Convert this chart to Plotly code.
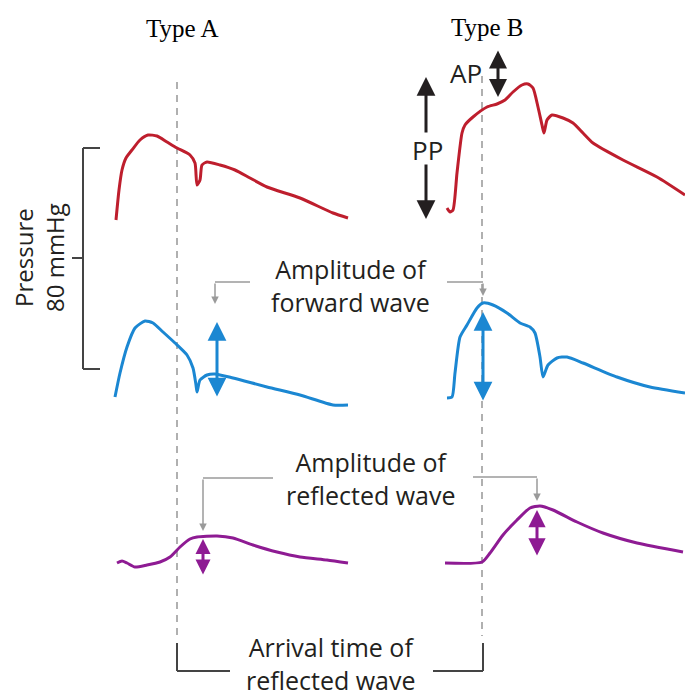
import plotly.graph_objects as go

# Canvas is laid out in drawing units (x right, y down), 685 x 696.

# --- Waveform samples: (x, y) in drawing units ---
# Type A: aortic pressure (red), forward wave (blue), reflected wave (purple)
A_AORTIC_X = [116, 119, 122, 126, 132, 140, 148, 157, 167, 177, 190, 195, 197, 200, 202, 207, 220, 235, 250, 267, 300, 333, 348]
A_AORTIC_Y = [220, 190, 170, 158, 150, 140, 135, 136, 142, 148, 155, 163, 185, 180, 165, 162, 165, 170, 178, 187, 198, 213, 218]

A_FORWARD_X = [115, 120, 127, 135, 145, 153, 163, 175, 187, 193, 196, 197, 200, 207, 215, 233, 267, 300, 333, 348]
A_FORWARD_Y = [397, 373, 347, 328, 321, 323, 332, 343, 355, 368, 385, 392, 380, 375, 374, 378, 387, 395, 405, 405]

A_REFLECT_X = [117, 122, 127, 135, 147, 160, 170, 180, 190, 197, 217, 233, 253, 277, 300, 327, 348]
A_REFLECT_Y = [563, 561, 563, 567, 565, 562, 557, 547, 539, 537, 536, 538, 545, 552, 557, 560, 563]

# Type B
B_AORTIC_X = [447, 450, 453, 457, 462, 465, 473, 487, 497, 505, 513, 522, 528, 533, 538, 542, 544, 547, 552, 563, 573, 583, 593, 623, 657, 685]
B_AORTIC_Y = [208, 212, 210, 173, 133, 125, 117, 107, 104, 100, 92, 85, 84, 88, 107, 125, 133, 120, 115, 118, 123, 133, 143, 160, 177, 195]

B_FORWARD_X = [447, 452, 455, 460, 467, 477, 483, 493, 507, 520, 530, 535, 540, 543, 548, 557, 567, 583, 617, 650, 685]
B_FORWARD_Y = [398, 397, 373, 337, 325, 308, 303, 305, 313, 323, 327, 333, 357, 377, 365, 358, 357, 363, 377, 387, 393]

B_REFLECT_X = [445, 482, 490, 503, 517, 530, 540, 553, 577, 603, 637, 683]
B_REFLECT_Y = [563, 562, 553, 535, 520, 508, 506, 510, 522, 533, 543, 552]

# --- Labels ---
TYPE_LABELS = ["Type A", "Type B"]
FORWARD_LABEL = "Amplitude of<br>forward wave"
REFLECT_LABEL = "Amplitude of<br>reflected wave"
ARRIVAL_LABEL = "Arrival time of<br>reflected wave"
PRESSURE_LABEL = "Pressure<br>80 mmHg"

RED = "#BE1E2D"
BLUE = "#1B87D2"
PURPLE = "#8E1B93"
DARK = "#231F20"
GREY = "#9A9A9A"
DASH_GREY = "#B0B0B0"
SANS = "Open Sans, sans-serif"
SERIF = "Liberation Serif, Times New Roman, serif"

fig = go.Figure()

# Dashed reference lines marking the foot of the forward wave
for xd, ytop in ((177, 82), (482, 76)):
    fig.add_shape(type="line", x0=xd, x1=xd, y0=ytop, y1=636, xref="x", yref="y",
                  line=dict(color=DASH_GREY, width=2, dash="7px,6px"), layer="below")

waves = [
    (A_AORTIC_X, A_AORTIC_Y, RED),
    (A_FORWARD_X, A_FORWARD_Y, BLUE),
    (A_REFLECT_X, A_REFLECT_Y, PURPLE),
    (B_AORTIC_X, B_AORTIC_Y, RED),
    (B_FORWARD_X, B_FORWARD_Y, BLUE),
    (B_REFLECT_X, B_REFLECT_Y, PURPLE),
]
for xs, ys, col in waves:
    fig.add_trace(go.Scatter(x=xs, y=ys, mode="lines",
                             line=dict(color=col, width=3, shape="spline", smoothing=0.6),
                             hoverinfo="skip", showlegend=False))

# Pressure scale bracket
bracket = [(100, 148, 83, 148), (83, 148, 83, 369), (83, 369, 100, 369), (72, 258, 83, 258)]
for x0, y0, x1, y1 in bracket:
    fig.add_shape(type="line", x0=x0, y0=y0, x1=x1, y1=y1, line=dict(color="#444", width=2))

# Arrival-time bracket
for x0, y0, x1, y1 in [(177, 643, 177, 671), (177, 671, 230, 671),
                       (483, 643, 483, 671), (433, 671, 483, 671)]:
    fig.add_shape(type="line", x0=x0, y0=y0, x1=x1, y1=y1, line=dict(color="#444", width=2))

# Callout leader lines (horizontal parts)
for x0, x1, y in [(250, 215, 282), (447, 483, 282), (273, 203, 478), (473, 537, 477)]:
    fig.add_shape(type="line", x0=x0, y0=y, x1=x1, y1=y, line=dict(color=GREY, width=1.5))


def arrow(x, y0, y1, color, width, size, both=True):
    fig.add_annotation(x=x, y=y1, ax=x, ay=y0, xref="x", yref="y", axref="x", ayref="y",
                       text="", showarrow=True, arrowhead=2, startarrowhead=2,
                       arrowside="end+start" if both else "end",
                       arrowsize=size, startarrowsize=size, arrowwidth=width,
                       arrowcolor=color, standoff=0, startstandoff=0)


# Callout leader lines (vertical parts ending in small arrowheads)
arrow(215, 282, 304, GREY, 1.5, 1.0, both=False)
arrow(483, 282, 296, GREY, 1.5, 1.0, both=False)
arrow(203, 478, 531, GREY, 1.5, 1.0, both=False)
arrow(537, 477, 501, GREY, 1.5, 1.0, both=False)

# Amplitude arrows
arrow(217, 398, 322, BLUE, 3, 1.25)
arrow(483, 402, 312, BLUE, 3, 1.25)
arrow(203, 576, 539, PURPLE, 3, 1.0)
arrow(537, 557, 510, PURPLE, 3, 1.15)

# PP and AP arrows
arrow(426, 134, 77, DARK, 3, 1.25, both=False)
arrow(426, 163, 219, DARK, 3, 1.25, both=False)
arrow(498, 49, 97, DARK, 3, 1.2)


def label(x, y, text, size, font=SANS, color=DARK, angle=0):
    fig.add_annotation(x=x, y=y, xref="x", yref="y", text=text, showarrow=False,
                       font=dict(family=font, size=size, color=color),
                       xanchor="center", yanchor="middle", textangle=angle)


label(182, 28, TYPE_LABELS[0], 25, font=SERIF, color="#000")
label(487, 27, TYPE_LABELS[1], 25, font=SERIF, color="#000")
label(427, 150, "PP", 26)
label(466, 73, "AP", 26)

label(350, 285, FORWARD_LABEL, 25)
label(371, 478, REFLECT_LABEL, 25)
label(331, 663, ARRIVAL_LABEL, 25)
label(39, 258, PRESSURE_LABEL, 24, angle=-90)

fig.update_layout(
    width=685, height=696,
    margin=dict(l=0, r=0, t=0, b=0),
    paper_bgcolor="white", plot_bgcolor="white",
    xaxis=dict(range=[0, 685], visible=False, fixedrange=True),
    yaxis=dict(range=[696, 0], visible=False, fixedrange=True),
    showlegend=False,
)

fig.write_html("out.html")
